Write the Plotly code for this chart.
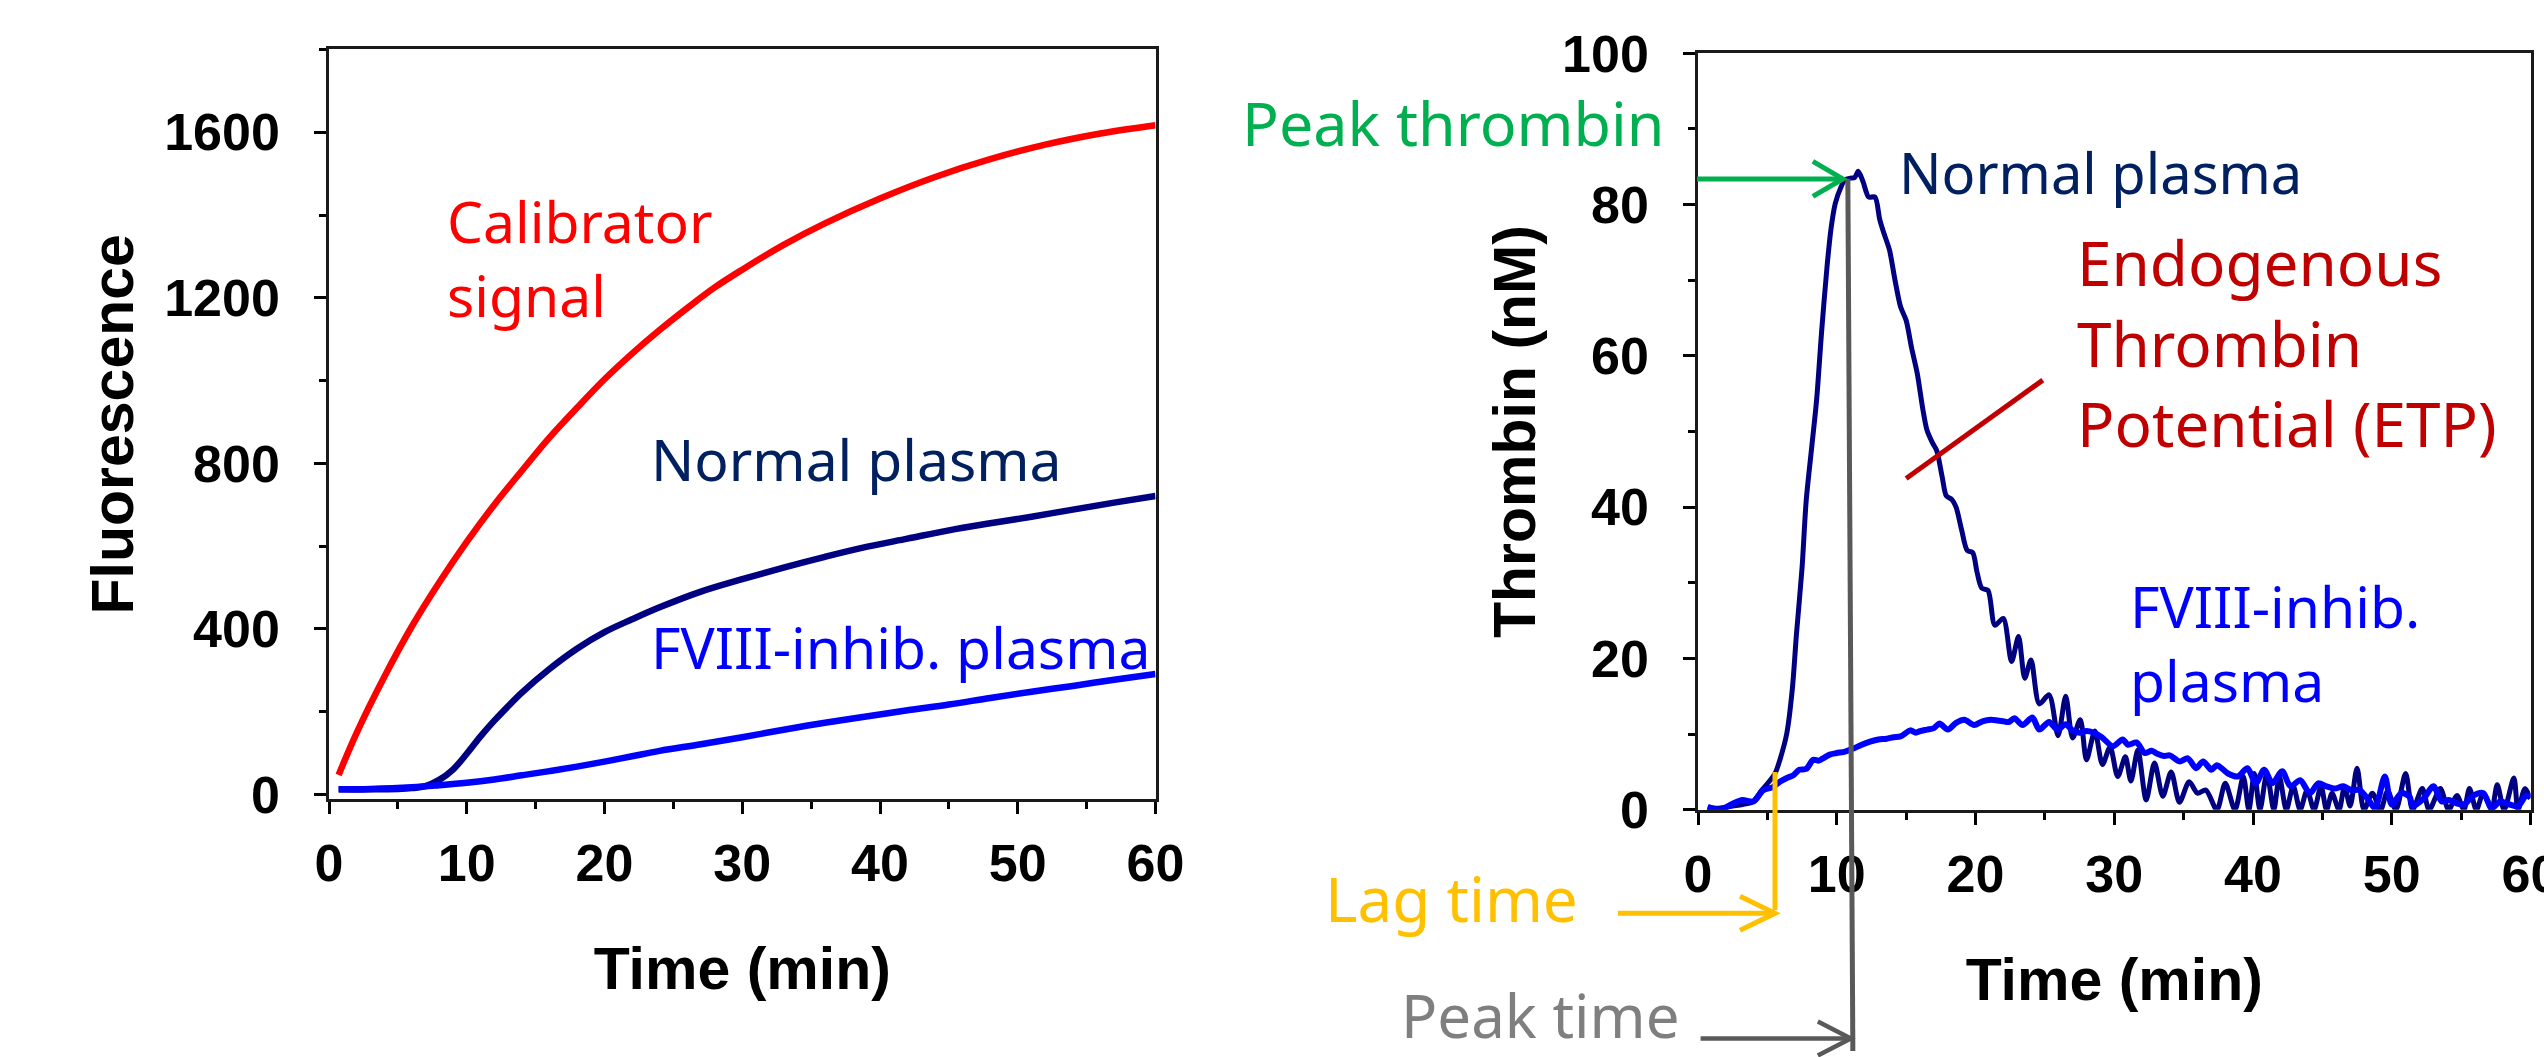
import plotly.graph_objects as go

W, H = 2544, 1057

# ---------------- data ----------------
# Left panel: raw fluorescence
cal_t = [0.7, 2, 4, 6, 8, 10, 12, 14, 16, 18, 20, 22, 24, 26, 28, 30, 33, 36, 40, 44, 48, 52, 56, 60]
cal_v = [47, 148, 283, 405, 512, 610, 700, 782, 862, 934, 1003, 1065, 1122, 1175, 1225, 1268, 1328,
         1380, 1440, 1492, 1535, 1570, 1597, 1617]

norm_f_t = [0.7, 3, 5, 6, 7, 8, 9, 10, 11, 12, 13, 14, 16, 18, 20, 22, 24, 27, 30, 33, 36, 39, 42, 45,
            48, 51, 54, 57, 60]
norm_f_v = [12, 12, 13, 15, 20, 35, 60, 98, 140, 178, 213, 246, 303, 352, 392, 423, 452, 490, 520, 548,
            574, 598, 618, 638, 655, 671, 688, 705, 721]

fviii_f_t = [0.7, 3, 6, 8, 10, 12, 14, 16, 18, 20, 22, 24, 27, 30, 33, 36, 39, 42, 45, 48, 51, 54, 57, 60]
fviii_f_v = [12, 13, 17, 22, 28, 36, 46, 56, 67, 79, 92, 105, 121, 138, 156, 173, 188, 203, 217, 233,
             248, 262, 277, 291]

# Right panel: thrombin generation
norm_th_t = [0.7, 1.5, 2.5, 3.2, 3.9, 4.6, 5.2, 5.6, 6.0, 6.4, 6.8, 7.1, 7.5, 7.8, 8.2, 8.55, 8.9, 9.3,
             9.6, 9.9, 10.3, 10.6, 11.0, 11.3, 11.55, 11.9, 12.3, 12.75, 13.1, 13.4, 13.8, 14.2, 14.6,
             15.0, 15.4, 15.8, 16.2, 16.5, 16.9, 17.2, 17.6, 17.9, 18.3, 18.6, 19.0, 19.4, 19.8, 20.1,
             20.45, 20.9, 21.4, 22.0, 22.6, 23.1, 23.55, 24.0, 24.6, 25.3, 25.95, 26.5, 27.0, 27.55,
             28.0, 28.6, 29.15, 29.7, 30.25, 30.8, 31.2, 31.7, 32.3, 32.9, 33.5, 34.1, 34.7, 35.4, 36.0,
             36.6, 37.4, 38.0, 38.7, 39.3, 39.7, 40.1, 40.5, 41.0, 41.5, 41.9, 42.4, 42.9, 43.4, 43.9,
             44.4, 44.9, 45.3, 45.7, 46.2, 46.6, 47.0, 47.5, 48.0, 48.6, 49.2, 49.7, 50.3, 51.0, 51.5,
             52.2, 52.7, 53.5, 54.1, 54.7, 55.2, 55.6, 56.1, 56.6, 57.2, 57.6, 58.1, 58.8, 59.1, 59.6,
             60.0]
norm_th_v = [0.3, 0.2, 0.5, 0.7, 1.0, 2.6, 3.9, 5.0, 7.2, 10.1, 16, 23.3, 32, 40.9, 48, 54.2, 63, 71.8,
             77, 80.2, 82.3, 83.3, 83.5, 83.6, 84.4, 83, 81.0, 81.0, 78, 76.2, 74, 70, 66.5,
             64.7, 61, 57.7, 53, 50.2, 48.5, 47.5, 44, 41.5, 41, 40, 37, 34.3, 34, 31.5,
             29.3, 29, 24.4, 25.3, 19.6, 22.9, 17.4, 19.8, 14.0, 15.2, 9.8, 15.0, 9.5, 11.9,
             6.6, 10.4, 6.0, 8.3, 4.4, 7.0, 3.8, 7.9, 1.3, 6.2, 1.8, 5.0, 1.0, 3.7, 2.2,
             2.6, 0, 3.5, 0, 4.4, 0, 4.8, 0, 4.8, 0, 4.4, 0, 3.1, 0, 2.6,
             0, 3.1, 0, 2.2, 0, 3.1, 0.5, 5.5, 0, 2.2, 0, 2.5, 0, 4.8, 0,
             2.8, 0, 2.8, 0, 1.9, 0, 2.8, 0, 2.2, 0, 3.3, 0, 4.2, 0, 2.8,
             1.5]

fviii_th_t = [0.7, 1.6, 2.5, 3.2, 4.0, 4.7, 5.4, 5.9, 6.4, 6.9, 7.3, 7.8, 8.3, 8.7, 9.0, 9.5, 10.0, 10.6,
              11.2, 11.8, 12.4, 13.0, 13.6, 14.1, 14.6, 15.3, 15.7, 16.0, 16.5, 17.0, 17.4, 18.0, 18.6,
              19.2, 19.9, 20.5, 21.1, 21.6, 22.0, 22.4, 22.8, 23.4, 24.1, 24.6, 25.3, 25.9, 26.5, 27.0,
              27.5, 28.0, 28.5, 29.1, 29.9, 30.6, 31.0, 31.6, 32.2, 32.7, 33.1, 33.6, 34.0, 34.7, 35.3,
              35.9, 36.4, 37.0, 37.4, 38.2, 38.9, 39.6, 40.2, 40.8, 41.4, 42.1, 42.7, 43.4, 44.1, 44.7,
              45.3, 45.9, 46.5, 47.1, 47.7, 48.4, 48.8, 49.5, 50.0, 50.7, 51.3, 51.5, 52.3, 53.0, 53.6,
              54.1, 54.6, 55.2, 55.9, 56.6, 57.2, 57.8, 58.5, 59.1, 59.7, 60.0]
fviii_th_v = [0.4, 0, 0.8, 1.3, 1.1, 2.6, 3.0, 3.7, 4.2, 4.6, 5.3, 5.4, 6.6, 6.5, 6.8, 7.3, 7.5, 7.7,
              8.1, 8.6, 9.0, 9.3, 9.4, 9.6, 9.7, 10.5, 10.2, 10.4, 10.6, 10.8, 11.4, 10.6, 11.5,
              11.9, 11.2, 11.7, 11.9, 11.8, 11.7, 11.6, 12.1, 11.2, 12.2, 10.6, 11.6, 10.6, 11.3, 10.5,
              10.2, 10.4, 10.2, 9.6, 8.4, 9.3, 8.6, 8.9, 7.5, 7.8, 7.4, 7.1, 7.2, 6.4, 6.8,
              5.5, 6.4, 5.3, 5.9, 4.8, 4.4, 5.5, 3.5, 5.3, 3.5, 5.1, 3.1, 3.9, 2.2, 3.5,
              3.1, 2.8, 3.1, 2.6, 2.6, 1.1, 0.2, 4.4, 0.7, 2.2, 1.7, 0.5, 1.5, 3.1, 1.1,
              1.3, 0.9, 0.7, 1.9, 2.2, 0.2, 1.1, 0.7, 0.5, 1.9, 1.6]

# Marked parameters
LAG_TIME = 5.55
LAG_LEVEL = 5.0
PEAK_TIME = 10.8
PEAK_THROMBIN = 83.4
ETP_LINE_T = [15.0, 24.85]
ETP_LINE_V = [43.8, 56.8]

x_ticks = [0, 10, 20, 30, 40, 50, 60]

# ---------------- geometry helpers (pixel -> paper) ----------------
L_X0, L_X1, L_YB, L_YT = 329.0, 1155.5, 799.3, 49.3
R_X0, R_X1, R_YB, R_YT = 1698.0, 2530.5, 809.8, 53.3
R_RANGE_X = (0, 60)
R_RANGE_Y = (0, 100)


def fx(px):
    return px / W


def fy(py):
    return 1 - py / H


def r_px(t):
    return R_X0 + (t - R_RANGE_X[0]) / (R_RANGE_X[1] - R_RANGE_X[0]) * (R_X1 - R_X0)


def r_py(v):
    return R_YB + (v - R_RANGE_Y[0]) / (R_RANGE_Y[1] - R_RANGE_Y[0]) * (R_YT - R_YB)


TICK_FONT = dict(family="Liberation Sans, Arial, sans-serif", size=52, color="#000000", weight="bold")
TITLE_FONT = dict(family="Liberation Sans, Arial, sans-serif", size=59, color="#000000", weight="bold")
ANN_FONT = "Noto Sans, DejaVu Sans, sans-serif"

fig = go.Figure()

# Left panel traces
fig.add_trace(go.Scatter(x=cal_t, y=cal_v, mode="lines", name="Calibrator signal",
                         line=dict(color="#FF0000", width=6.5, shape="spline"), xaxis="x", yaxis="y"))
fig.add_trace(go.Scatter(x=norm_f_t, y=norm_f_v, mode="lines", name="Normal plasma",
                         line=dict(color="#000080", width=6.5, shape="spline"), xaxis="x", yaxis="y"))
fig.add_trace(go.Scatter(x=fviii_f_t, y=fviii_f_v, mode="lines", name="FVIII-inhib. plasma",
                         line=dict(color="#0000FF", width=6.5, shape="spline"), xaxis="x", yaxis="y"))

# Right panel traces
fig.add_trace(go.Scatter(x=norm_th_t, y=norm_th_v, mode="lines", name="Normal plasma",
                         line=dict(color="#000080", width=5, shape="spline", smoothing=0.8),
                         xaxis="x2", yaxis="y2"))
fig.add_trace(go.Scatter(x=fviii_th_t, y=fviii_th_v, mode="lines", name="FVIII-inhib. plasma",
                         line=dict(color="#0000FF", width=6, shape="spline", smoothing=0.8),
                         xaxis="x2", yaxis="y2"))


def axis(domain, rng, dtick, minor_dtick, anchor, title, standoff):
    return dict(
        domain=domain, range=rng, anchor=anchor, dtick=dtick, tick0=0,
        showline=True, linecolor="#1a1a1a", linewidth=2.5, mirror=True,
        ticks="outside", ticklen=12, tickwidth=2.5, tickcolor="#000000",
        minor=dict(ticks="outside", ticklen=7, tickwidth=2.5, tickcolor="#000000", dtick=minor_dtick),
        showgrid=False, zeroline=False, tickfont=TICK_FONT,
        title=dict(text=title, font=TITLE_FONT, standoff=standoff),
        automargin=False, fixedrange=True,
    )


xa = axis([fx(L_X0), fx(L_X1)], [0, 60], 10, 5, "y", "Time (min)", 57)
xa["tickvals"] = x_ticks
xa["ticklabelstandoff"] = 5
ya = axis([fy(L_YB), fy(L_YT)], [-12, 1800.5], 400, 200, "x", "Fluorescence", 12)
ya["ticklabelstandoff"] = 24

xa2 = axis([fx(R_X0), fx(R_X1)], list(R_RANGE_X), 10, 5, "y2", "Time (min)", 57)
xa2["tickvals"] = x_ticks
xa2["ticklabelstandoff"] = 5
xa2["ticklabeloverflow"] = "allow"
ya2 = axis([fy(R_YB), fy(R_YT)], list(R_RANGE_Y), 20, 10, "x2", "Thrombin (nM)", 8)
ya2["ticklabelstandoff"] = 24

# ---------------- annotation shapes ----------------
shapes = []


def seg(x0, y0, x1, y1, color, width):
    shapes.append(dict(type="line", xref="paper", yref="paper", x0=fx(x0), y0=fy(y0), x1=fx(x1), y1=fy(y1),
                       line=dict(color=color, width=width), layer="above"))


def vhead(tipx, tipy, back, half, color, width):
    path = "M {} {} L {} {} L {} {}".format(fx(tipx - back), fy(tipy - half), fx(tipx), fy(tipy),
                                           fx(tipx - back), fy(tipy + half))
    shapes.append(dict(type="path", xref="paper", yref="paper", path=path,
                       line=dict(color=color, width=width), layer="above"))


# Peak time: grey line from peak down below the axis, with arrow
pk_top_x, pk_top_y = r_px(PEAK_TIME), r_py(PEAK_THROMBIN)
pk_bot_x, pk_bot_y = r_px(PEAK_TIME) + 5, 1051
seg(pk_top_x, pk_top_y, pk_bot_x, pk_bot_y, "#595959", 5)
arrow_y = 1038.5
seg(1700.6, arrow_y, pk_bot_x - 2, arrow_y, "#595959", 4.5)
vhead(pk_bot_x - 2, arrow_y, 33, 17, "#595959", 4.5)

# Peak thrombin: green arrow from the y axis to the peak
tip_x = r_px(PEAK_TIME) - 5
seg(R_X0 - 1, pk_top_y, tip_x, pk_top_y, "#00B050", 5)
vhead(tip_x, pk_top_y, 30, 17.5, "#00B050", 5)

# Lag time: yellow vertical line + arrow
lag_x = r_px(LAG_TIME)
seg(lag_x, r_py(LAG_LEVEL), lag_x, 910, "#FFC000", 5)
seg(1618, 913.3, lag_x, 913.3, "#FFC000", 5)
vhead(lag_x, 913.3, 35, 17, "#FFC000", 5)

# ETP pointer line
shapes.append(dict(type="line", xref="x2", yref="y2", x0=ETP_LINE_T[0], y0=ETP_LINE_V[0],
                   x1=ETP_LINE_T[1], y1=ETP_LINE_V[1], line=dict(color="#C00000", width=5), layer="above"))

# ---------------- text annotations ----------------
annotations = []


def label(lines, x_left, baselines, size, color):
    mean_base = sum(baselines) / len(baselines)
    annotations.append(dict(
        text="<br>".join(lines), xref="paper", yref="paper", x=fx(x_left), y=fy(mean_base - 0.39 * size),
        xanchor="left", yanchor="middle", align="left", showarrow=False,
        font=dict(family=ANN_FONT, size=size, color=color)))


label(["Calibrator", "signal"], 445, [246.7, 313.3], 57, "#FF0000")
label(["Normal plasma"], 649, [481.7], 57, "#002060")
label(["FVIII-inhib. plasma"], 649, [669.3], 57, "#0000FF")

label(["Peak thrombin"], 1240, [146], 61, "#00B050")
label(["Normal plasma"], 1897, [194.3], 56, "#002060")
label(["Endogenous", "Thrombin", "Potential (ETP)"], 2075, [291.7, 366.7, 441.7], 62, "#C00000")
label(["FVIII-inhib.", "plasma"], 2128, [631.7, 698.3], 57, "#0000FF")
label(["Lag time"], 1323, [921.7], 62, "#FFC000")
label(["Peak time"], 1399, [1038], 60, "#7F7F7F")

fig.update_layout(
    width=W, height=H,
    margin=dict(l=0, r=0, t=0, b=0, autoexpand=False),
    paper_bgcolor="white", plot_bgcolor="white",
    showlegend=False,
    xaxis=xa, yaxis=ya, xaxis2=xa2, yaxis2=ya2,
    shapes=shapes, annotations=annotations,
)

fig.write_html("out.html")
